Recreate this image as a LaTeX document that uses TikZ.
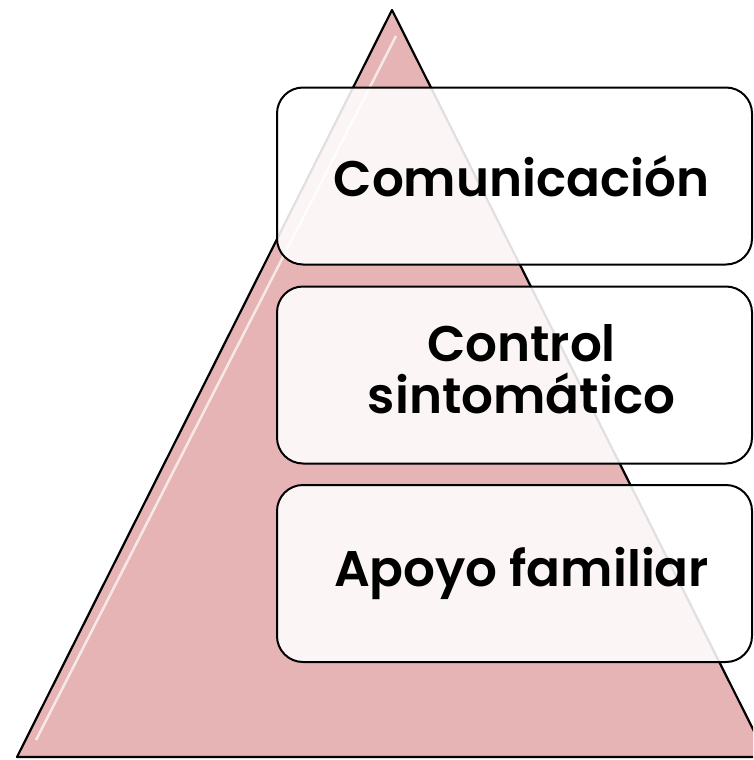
\documentclass[tikz,border=0pt]{standalone}
\usepackage{fontspec}
\setmainfont{Poppins}[BoldFont={Poppins SemiBold}]
\usepackage[]{xcolor}
\definecolor{piramide}{HTML}{E6B4B4}

\tikzset{
  nivel/.style={draw=black, line width=2pt, fill=white, fill opacity=0.88,
    rounded corners=26pt, minimum width=475pt, minimum height=177pt, inner sep=0pt},
  rotulo/.style={align=center, xshift=7pt, inner sep=0pt,
    font=\fontsize{50}{52}\selectfont\bfseries},
}

\begin{document}
\begin{tikzpicture}[x=1pt, y=-1pt]
 	\useasboundingbox (0,0) rectangle (753,760);
 	\clip (0,0) rectangle (753,760);
 	\coordinate (Top) at (392,10);
 	\coordinate (BL) at (17,757);
 	\coordinate (BR) at (767,757);
 	\fill[piramide] (Top) -- (BL) -- (BR) -- cycle;
 	\draw[white, line width=2.5pt, opacity=0.7] (396,36) -- (36,740);
 	\draw[line width=2.2pt, line join=round] (Top) -- (BL) -- (BR) -- cycle;
 	\node[nivel](Com) at (514.5,176) {};
 	\node[nivel](Ctrl) at (514.5,375) {};
 	\node[nivel](Apoyo) at (514.5,573.5) {};
 	\node[rotulo] at (Com.center) {Comunicación};
 	\node[rotulo, yshift=6pt] at (Ctrl.center) {Control\\sintomático};
 	\node[rotulo] at (Apoyo.center) {Apoyo familiar};
\end{tikzpicture}
\end{document}
